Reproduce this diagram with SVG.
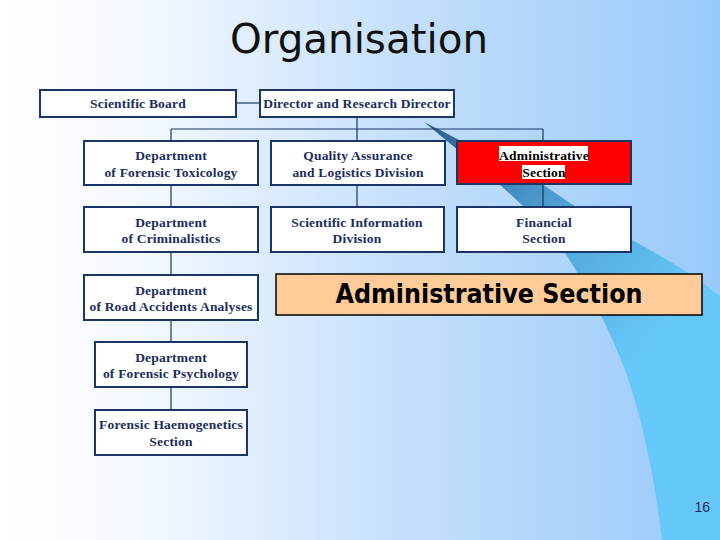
<svg xmlns="http://www.w3.org/2000/svg" width="720" height="540" viewBox="0 0 720 540">
<defs>
<linearGradient id="bg" x1="0" y1="0" x2="1" y2="0">
<stop offset="0" stop-color="#ffffff"/>
<stop offset="0.2" stop-color="#f3f8ff"/>
<stop offset="0.55" stop-color="#c6e0fb"/>
<stop offset="1" stop-color="#98cafa"/>
</linearGradient>
<linearGradient id="sw" gradientUnits="userSpaceOnUse" x1="440" y1="130" x2="660" y2="330">
<stop offset="0" stop-color="#2f6592"/>
<stop offset="0.45" stop-color="#4e9ed4"/>
<stop offset="1" stop-color="#66c8f8"/>
</linearGradient>
<style>
.box{fill:#ffffff;stroke:#1b3566;stroke-width:2}
.lbl{font-family:"Liberation Serif","Times New Roman",serif;font-weight:bold;font-size:13.5px;letter-spacing:0.2px;fill:#1b2d5c;text-anchor:middle}
.con line{stroke:#1b3566;stroke-width:1.2}
</style>
</defs>
<rect x="0" y="0" width="720" height="540" fill="url(#bg)"/>
<path d="M424,122 L470,160 L500,185 Q540,220 563,250 Q600,305 625,370 Q650,440 662,540 L720,540 L720,296 Q690,272 650,250 Q590,218 545,186 Q480,150 424,122 Z" fill="url(#sw)"/>
<text x="359" y="53" font-family="'Comic Sans MS','DejaVu Sans',sans-serif" font-size="40" fill="#111" text-anchor="middle" textLength="258" lengthAdjust="spacingAndGlyphs">Organisation</text>
<g class="con">
<line x1="236" y1="103" x2="260" y2="103"/>
<line x1="357" y1="117" x2="357" y2="141"/>
<line x1="171" y1="129" x2="543" y2="129"/>
<line x1="171" y1="129" x2="171" y2="141"/>
<line x1="543" y1="129" x2="543" y2="141"/>
<line x1="171" y1="185" x2="171" y2="207"/>
<line x1="357" y1="185" x2="357" y2="207"/>
<line x1="543" y1="184" x2="543" y2="207"/>
<line x1="171" y1="252" x2="171" y2="275"/>
<line x1="171" y1="320" x2="171" y2="342"/>
<line x1="171" y1="387" x2="171" y2="410"/>
</g>
<g id="scientific-board"><rect class="box" x="40" y="90" width="196" height="27"/><text class="lbl" x="138" y="108">Scientific Board</text></g>
<g id="director"><rect class="box" x="260" y="90" width="194" height="27"/><text class="lbl" x="357" y="108">Director and Research Director</text></g>
<g id="toxicology"><rect class="box" x="84" y="141" width="174" height="44"/><text class="lbl" x="171" y="160">Department</text><text class="lbl" x="171" y="177">of Forensic Toxicology</text></g>
<g id="quality"><rect class="box" x="271" y="141" width="174" height="44"/><text class="lbl" x="358" y="160">Quality Assurance</text><text class="lbl" x="358" y="177">and Logistics Division</text></g>
<g id="admin-red"><rect x="457" y="141" width="174" height="43" fill="#ff0000" stroke="#1b3566" stroke-width="2"/><rect x="499" y="146" width="89" height="15" fill="#fff"/><rect x="522" y="165" width="43" height="14" fill="#fff"/><text class="lbl" x="544" y="160" style="fill:#000">Administrative</text><text class="lbl" x="544" y="177" style="fill:#000">Section</text></g>
<g id="criminalistics"><rect class="box" x="84" y="207" width="174" height="45"/><text class="lbl" x="171" y="227">Department</text><text class="lbl" x="171" y="243">of Criminalistics</text></g>
<g id="sci-info"><rect class="box" x="271" y="207" width="173" height="45"/><text class="lbl" x="357" y="227">Scientific Information</text><text class="lbl" x="357" y="243">Division</text></g>
<g id="financial"><rect class="box" x="457" y="207" width="174" height="45"/><text class="lbl" x="544" y="227">Financial</text><text class="lbl" x="544" y="243">Section</text></g>
<g id="road"><rect class="box" x="84" y="275" width="174" height="45"/><text class="lbl" x="171" y="295">Department</text><text class="lbl" x="171" y="311">of Road Accidents Analyses</text></g>
<g id="psychology"><rect class="box" x="95" y="342" width="152" height="45"/><text class="lbl" x="171" y="362">Department</text><text class="lbl" x="171" y="378">of Forensic Psychology</text></g>
<g id="haemogenetics"><rect class="box" x="95" y="410" width="152" height="45"/><text class="lbl" x="171" y="429">Forensic Haemogenetics</text><text class="lbl" x="171" y="446">Section</text></g>
<g id="admin-callout"><rect x="276" y="274" width="426" height="41" fill="#ffcc99" stroke="#000" stroke-width="1.5"/><text x="489" y="303" font-family="'Comic Sans MS','DejaVu Sans',sans-serif" font-weight="bold" font-size="26" fill="#000" text-anchor="middle" textLength="307" lengthAdjust="spacingAndGlyphs">Administrative Section</text></g>
<text x="710" y="512" font-family="'Liberation Sans',Arial,sans-serif" font-size="14" fill="#1b2d5c" text-anchor="end">16</text>
</svg>
